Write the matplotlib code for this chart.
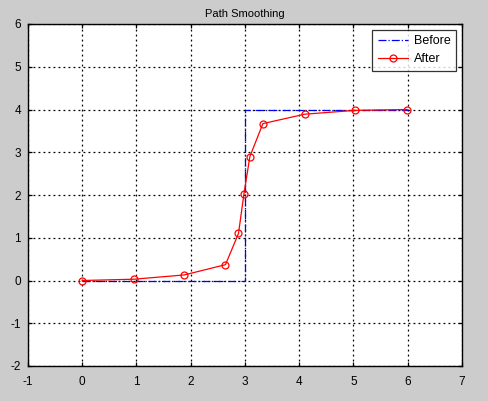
import matplotlib
matplotlib.use("Agg")
import matplotlib.pyplot as plt

before_x = [0, 1, 2, 3, 3, 3, 3, 3, 4, 5, 6]
before_y = [0, 0, 0, 0, 1, 2, 3, 4, 4, 4, 4]
after_x = [0, 0.95, 1.88, 2.64, 2.88, 2.98, 3.09, 3.33, 4.10, 5.03, 5.99]
after_y = [0, 0.03, 0.13, 0.37, 1.10, 2.02, 2.90, 3.67, 3.89, 3.98, 4.00]
xticks = list(range(-1, 8))
yticks = list(range(-2, 7))

plt.rcParams['font.family'] = ['Liberation Sans', 'DejaVu Sans']
plt.rcParams['axes.unicode_minus'] = False
fig = plt.figure(figsize=(4.89, 4.01), dpi=100, facecolor='#cccccc')
ax = fig.add_axes([28/489, 35/401, 434/489, 342/401])
ax.set_facecolor('white')

ax.plot(before_x, before_y, color='blue', linestyle='-.', linewidth=0.9, label='Before')
ax.plot(after_x, after_y, color='red', linestyle='-', linewidth=0.9, marker='o',
        markersize=5, markerfacecolor='none', markeredgecolor='red', markeredgewidth=0.9,
        label='After')

ax.set_xlim(-1, 7)
ax.set_ylim(-2, 6)
ax.set_xticks(xticks)
ax.set_yticks(yticks)
ax.grid(True, color='black', linestyle=(0, (1.5, 2.5)), linewidth=0.9)
ax.tick_params(direction='in', length=3, width=0.9, top=True, right=True, labelsize=8.5,
               colors='black')
ax.tick_params(axis='x', pad=7)
ax.tick_params(axis='y', pad=5)
for s in ax.spines.values():
    s.set_linewidth(1.0)
    s.set_color('black')

ax.set_title('Path Smoothing', fontsize=8, pad=5)
leg = ax.legend(loc='upper right', fontsize=9, frameon=True, fancybox=False,
                edgecolor='black', borderaxespad=0.45, handlelength=2.4, handletextpad=0.5,
                labelspacing=0.5, borderpad=0.45)
leg.get_frame().set_linewidth(0.9)

fig.savefig('out.png', dpi=100, facecolor=fig.get_facecolor())
